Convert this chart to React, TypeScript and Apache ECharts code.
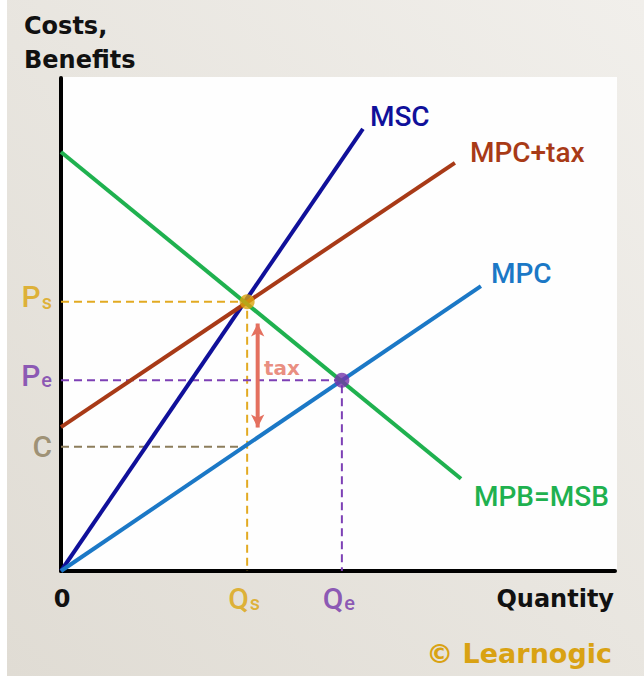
import React, { useEffect, useRef } from "react";
import * as echarts from "echarts";

// Curves (x: quantity 0-100, y: costs/benefits 0-100)
const mscLine = [[0, 0], [54.5, 89.7]];
const mpcTaxLine = [[0, 29.2], [71.1, 82.8]];
const mpcLine = [[0, 0], [75.8, 57.8]];
const mpbLine = [[0, 85.0], [72.2, 18.7]];

// Equilibria
const qs = 33.6;
const psVal = 54.6;
const qe = 50.7;
const peVal = 38.7;
const cVal = 25.2;

// Tax arrow (arrow-head centres) and its label
const taxArrow = [[35.5, 50.2], [35.5, 29.1]];
const taxLabelPos = [39.9, 41.2];

const curveNames = ["MSC", "MPC+tax", "MPC", "MPB=MSB"];

const GOLD = "#dca40c";
const PURPLE = "#7434aa";
const CCOL = "#8c7d5b";
const TAXCOL = "#e4705f";
const LABEL_FONT = "Roboto";

export default function App() {
  const ref = useRef<HTMLDivElement>(null);
  useEffect(() => {
    document.body.style.margin = "0";
    const chart = echarts.init(ref.current!, undefined, { renderer: "svg" });
    const sub = (main: string, s: string, color: string) => ({
      show: true,
      formatter: `{a|${main}}{b|${s}}`,
      rich: {
        a: { fontSize: 30, fontWeight: 500, fontFamily: LABEL_FONT, color, lineHeight: 30 },
        b: { fontSize: 20, fontWeight: 500, fontFamily: LABEL_FONT, color, lineHeight: 30, verticalAlign: "bottom", padding: [0, 0, 0, 1] },
      },
    });
    const curve = (name: string, data: number[][], color: string, offset: number[]) => ({
      type: "line",
      name,
      data,
      symbol: "none",
      z: 3,
      lineStyle: { color, width: 4 },
      endLabel: {
        show: true,
        formatter: name,
        color,
        fontSize: 28,
        fontWeight: 500,
        fontFamily: LABEL_FONT,
        distance: 5,
        offset,
      },
    });
    const dashed = (data: number[][], color: string) => ({
      type: "line",
      data,
      symbol: "none",
      z: 2,
      lineStyle: { color, width: 2, type: [8, 5] },
    });
    const option: any = {
      animation: false,
      backgroundColor: "#ffffff",
      grid: { left: 61, right: 29, top: 78, bottom: 105 },
      xAxis: {
        type: "value",
        min: 0,
        max: 100,
        axisLine: { show: true, onZero: false, lineStyle: { color: "#000", width: 4 } },
        axisTick: { show: false },
        axisLabel: { show: false },
        splitLine: { show: false },
      },
      yAxis: {
        type: "value",
        min: 0,
        max: 100,
        axisLine: { show: true, onZero: false, lineStyle: { color: "#000", width: 4 } },
        axisTick: { show: false },
        axisLabel: { show: false },
        splitLine: { show: false },
      },
      graphic: [
        {
          type: "rect",
          z: -10,
          silent: true,
          shape: { x: 7, y: 0, width: 637, height: 676 },
          style: {
            fill: new echarts.graphic.LinearGradient(1, 0, 0, 1, [
              { offset: 0, color: "#f1efeb" },
              { offset: 1, color: "#e0dcd4" },
            ]),
          },
        },
        {
          type: "rect",
          z: -9,
          silent: true,
          shape: { x: 63, y: 77, width: 554, height: 494 },
          style: { fill: "#fefefe" },
        },
        {
          type: "text",
          x: 24,
          y: 9,
          style: {
            text: "Costs,\nBenefits",
            font: 'bold 24px "DejaVu Sans"',
            fill: "#111",
            lineHeight: 34,
            verticalAlign: "top",
          },
        },
        {
          type: "text",
          x: 614,
          y: 599,
          style: { text: "Quantity", font: 'bold 24px "DejaVu Sans"', fill: "#111", align: "right", verticalAlign: "middle" },
        },
        {
          type: "text",
          x: 62,
          y: 599,
          style: { text: "0", font: 'bold 24px "DejaVu Sans"', fill: "#111", align: "center", verticalAlign: "middle" },
        },
        {
          type: "text",
          x: 612,
          y: 653,
          style: { text: "© Learnogic", font: 'bold 27px "DejaVu Sans"', fill: "#d9a213", align: "right", verticalAlign: "middle" },
        },
      ],
      series: [
        dashed([[0, psVal], [qs, psVal], [qs, 0]], "#e2aa22"),
        dashed([[0, peVal], [qe, peVal], [qe, 0]], "#7d40b5"),
        dashed([[0, cVal], [qs, cVal]], CCOL),
        curve(curveNames[0], mscLine, "#10109a", [2, -12]),
        curve(curveNames[1], mpcTaxLine, "#a83a17", [10, -10]),
        curve(curveNames[2], mpcLine, "#1b78c6", [5, -13]),
        curve(curveNames[3], mpbLine, "#1fb14f", [8, 18]),
        {
          type: "line",
          data: [
            { value: taxArrow[0], symbolRotate: 0 },
            { value: taxArrow[1], symbolRotate: 180 },
          ],
          symbol: "arrow",
          symbolSize: [10, 13],
          showSymbol: true,
          z: 4,
          lineStyle: { color: TAXCOL, width: 4 },
          itemStyle: { color: TAXCOL },
        },
        {
          type: "scatter",
          data: [taxLabelPos],
          symbolSize: 0,
          z: 5,
          label: {
            show: true,
            position: "inside",
            formatter: "tax",
            color: TAXCOL,
            fontSize: 20,
            fontWeight: "bold",
            fontFamily: '"DejaVu Sans"',
          },
        },
        {
          type: "scatter",
          symbolSize: 0,
          z: 5,
          data: [
            { value: [0, psVal], label: { ...sub("P", "s", GOLD), position: "left", distance: 9, offset: [0, -5] } },
            { value: [0, peVal], label: { ...sub("P", "e", PURPLE), position: "left", distance: 9, offset: [0, -5] } },
            {
              value: [0, cVal],
              label: { show: true, formatter: "C", color: CCOL, fontSize: 30, fontWeight: 500, fontFamily: LABEL_FONT, position: "left", distance: 9 },
            },
            { value: [qs, 0], label: { ...sub("Q", "s", GOLD), position: "bottom", distance: 12, offset: [-3, 0] } },
            { value: [qe, 0], label: { ...sub("Q", "e", PURPLE), position: "bottom", distance: 12, offset: [-3, 0] } },
          ],
        },
        {
          type: "scatter",
          symbolSize: 15,
          z: 6,
          data: [
            { value: [qs, psVal], itemStyle: { color: GOLD } },
            { value: [qe, peVal], itemStyle: { color: PURPLE } },
          ],
        },
      ],
    };
    chart.setOption(option);
    return () => chart.dispose();
  }, []);
  return <div ref={ref} style={{ width: 644, height: 676 }} />;
}
